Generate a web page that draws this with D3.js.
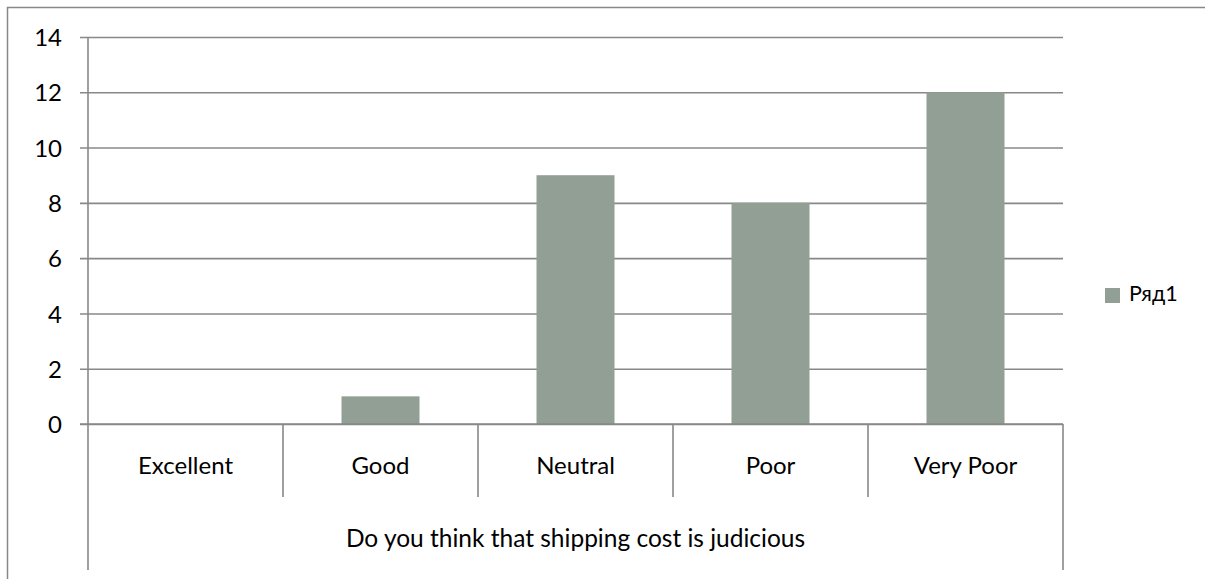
<!DOCTYPE html>
<html>
<head>
<meta charset="utf-8">
<script src="https://cdn.jsdelivr.net/npm/d3@7"></script>
<style>
  html, body { margin: 0; padding: 0; background: #fff; }
  svg { display: block; }
  text { font-family: Lato, "Open Sans", sans-serif; fill: #000; }
</style>
</head>
<body>
<svg id="chart" width="1205" height="579"></svg>
<script>
// Survey answers and counts
const categories = ["Excellent", "Good", "Neutral", "Poor", "Very Poor"];
const values = [0, 1, 9, 8, 12];
const yTicks = [0, 2, 4, 6, 8, 10, 12, 14];
const seriesName = "Ряд1";
const groupTitle = "Do you think that shipping cost is judicious";

const W = 1205, H = 579;
const plot = { left: 88, right: 1063, top: 37, bottom: 424 };
const lineColor = "#888888";
const barColor = "#919f94";

const svg = d3.select("#chart");

// outer chart frame (runs off the right and bottom edges)
svg.append("rect")
  .attr("x", 7.5).attr("y", 7.5)
  .attr("width", W).attr("height", H)
  .attr("fill", "none").attr("stroke", lineColor).attr("stroke-width", 1.5);

const x = d3.scaleBand().domain(categories)
  .range([plot.left, plot.right]).paddingInner(0).paddingOuter(0);
const y = d3.scaleLinear().domain([0, 14]).range([plot.bottom, plot.top]);

// horizontal gridlines + tick marks + labels
const yAxis = d3.axisLeft(y).tickValues(yTicks)
  .tickSize(-(plot.right - plot.left)).tickPadding(26).tickFormat(d3.format("d"));
const gy = svg.append("g").attr("transform", `translate(${plot.left},0)`).call(yAxis);
gy.select(".domain").remove();
gy.selectAll(".tick line")
  .attr("x1", -8)
  .attr("stroke", lineColor).attr("stroke-width", 1.6);
gy.selectAll(".tick text")
  .style("font-size", "24px").attr("dy", "0.36em");

// bars
const barW = x.bandwidth() * 0.4;
svg.append("g").selectAll("rect").data(values).join("rect")
  .attr("x", (d, i) => x(categories[i]) + (x.bandwidth() - barW) / 2)
  .attr("y", d => y(d))
  .attr("width", barW)
  .attr("height", d => y(0) - y(d))
  .attr("fill", barColor);

// redraw baseline on top of bars
svg.append("line")
  .attr("x1", plot.left - 8).attr("x2", plot.right)
  .attr("y1", y(0)).attr("y2", y(0))
  .attr("stroke", lineColor).attr("stroke-width", 1.6);

// vertical axis line down through the category table
const tableBottom = 570, rowBottom = 497;
svg.append("line")
  .attr("x1", plot.left).attr("x2", plot.left)
  .attr("y1", plot.top).attr("y2", tableBottom)
  .attr("stroke", lineColor).attr("stroke-width", 1.6);
svg.append("line")
  .attr("x1", plot.right).attr("x2", plot.right)
  .attr("y1", plot.bottom).attr("y2", tableBottom)
  .attr("stroke", lineColor).attr("stroke-width", 1.6);

// category separators
svg.append("g").selectAll("line").data(categories.slice(1)).join("line")
  .attr("x1", d => x(d)).attr("x2", d => x(d))
  .attr("y1", plot.bottom).attr("y2", rowBottom)
  .attr("stroke", lineColor).attr("stroke-width", 1.6);

// category labels
svg.append("g").selectAll("text").data(categories).join("text")
  .attr("x", d => x(d) + x.bandwidth() / 2)
  .attr("y", 474)
  .attr("text-anchor", "middle")
  .style("font-size", "24px")
  .text(d => d);

// group title
svg.append("text")
  .attr("x", (plot.left + plot.right) / 2)
  .attr("y", 547)
  .attr("text-anchor", "middle")
  .style("font-size", "24.5px")
  .text(groupTitle);

// legend
const lg = svg.append("g").attr("transform", "translate(1105,288)");
lg.append("rect").attr("width", 15).attr("height", 15).attr("fill", barColor);
lg.append("text").attr("x", 24).attr("y", 13)
  .style("font-size", "21.5px").text(seriesName);
</script>
</body>
</html>
